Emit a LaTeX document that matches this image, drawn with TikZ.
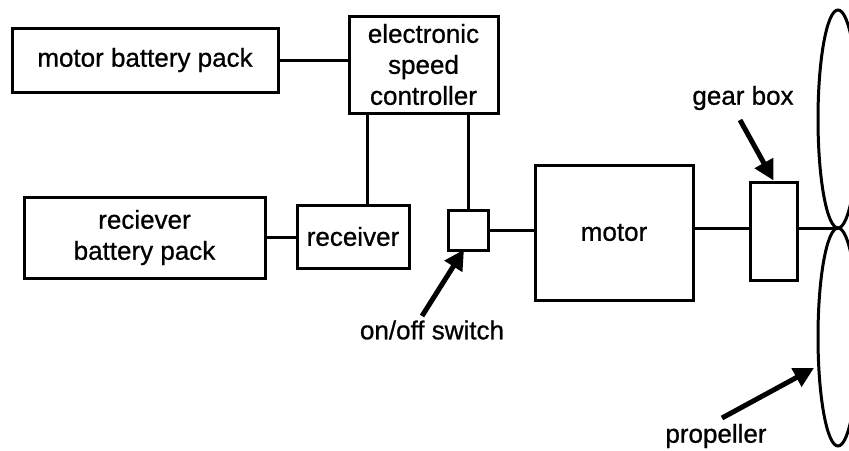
\documentclass[tikz,border=0pt]{standalone}
\usepackage{fontspec}
\setmainfont{Liberation Sans}[FakeBold=0.8]
\usetikzlibrary{arrows.meta,calc,positioning}

\begin{document}
\begin{tikzpicture}[x=1pt, y=-1pt, line width=3pt,
  font=\fontsize{26}{31}\selectfont,
  unit/.style={draw, line width=3pt, inner sep=0pt, align=center},
  pointer/.style={-{Triangle[length=20pt, width=20pt]}, line width=5pt}]

\useasboundingbox (0,0) rectangle (849,450);

% ---- Power side ----
\node[unit, minimum width=266, minimum height=64] (mbp) at (145,60) {motor battery pack};
\node[unit, minimum width=149, minimum height=97] (esc) at (423.5,64.5)
  {electronic\\speed\\controller};
\node[unit, minimum width=241, minimum height=81] (rbp) at (144.5,237.5)
  {reciever\\battery pack};
\node[unit, minimum width=112, minimum height=63] (recv) at (353,236.5) {receiver};
\node[unit, minimum width=40, minimum height=40] (sw) at (468,230) {};

% ---- Drive train ----
\node[unit, minimum width=158, minimum height=135] (motor) at (614,232.5) {motor};
\node[unit, minimum width=47, minimum height=98] (gear) at (773.5,231) {};
\coordinate (hub) at (838,228);

% ---- Wiring ----
\draw (mbp.east) -- (mbp.east -| esc.west);
\draw ([xshift=20pt]esc.south west) -- ([xshift=20pt]esc.south west |- recv.north);
\draw (sw.north |- esc.south) -- (sw.north);
\draw (rbp.east) -- (rbp.east -| recv.west);
\draw (sw.east) -- (sw.east -| motor.west);
\draw (hub -| motor.east) -- (hub -| gear.west);
\draw (hub -| gear.east) -- (hub);

% ---- Propeller blades ----
\draw (838,119) ellipse [x radius=20, y radius=109];
\draw (838,337) ellipse [x radius=20, y radius=109];

% ---- Callouts ----
\node (gblabel) at (743,98) {gear box};
\coordinate (gbtail) at (740,120);
\draw[pointer] (gbtail) -- (gear.north);

\node (swlabel) at (432,330) {on/off switch};
\coordinate (swtail) at (422,316);
\draw[pointer] (swtail) -- ([xshift=-4pt,yshift=2pt]sw.south);

\node (proplabel) at (716,436) {propeller};
\coordinate (proptail) at (722,418);
\coordinate (proptip) at (814,368);
\draw[pointer] (proptail) -- (proptip);

\end{tikzpicture}
\end{document}
